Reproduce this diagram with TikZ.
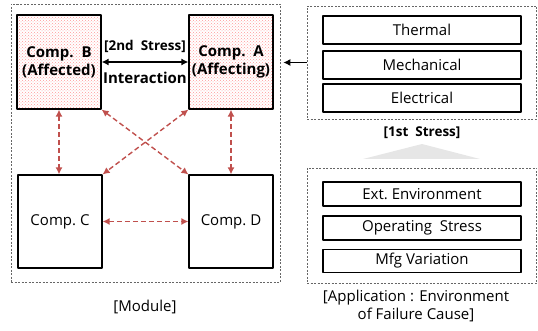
\documentclass[tikz,border=0pt]{standalone}
\usepackage{fontspec}
\setmainfont{Open Sans}
\usetikzlibrary{arrows.meta,patterns}
\definecolor{linkred}{RGB}{192,80,77}
\definecolor{conegray}{RGB}{230,230,230}
\newcommand{\txtsize}{\fontsize{15}{18}\selectfont}
\tikzset{
  comp/.style={draw, line width=1.2pt, minimum width=84pt, minimum height=94pt, inner sep=0pt, align=center},
  hatched/.style={comp, pattern=crosshatch dots, pattern color=red!40, font=\txtsize\bfseries},
  causebox/.style={draw, line width=1.2pt, minimum width=198pt, inner sep=0pt},
  groupbox/.style={draw=black!60, dash pattern=on 2pt off 1.5pt, line width=0.6pt, inner sep=0pt},
  link/.style={linkred, line width=1.4pt, dash pattern=on 5pt off 3pt, {Latex[length=7pt,width=7pt]}-{Latex[length=7pt,width=7pt]}}
}
\begin{document}
\begin{tikzpicture}[x=1pt, y=-1pt, font=\txtsize, line join=round]
  % Fix the page size
  \useasboundingbox (0,0) rectangle (538,331);

  % Module group (left)
  \node[groupbox, minimum width=269pt, minimum height=278pt] (module) at (145.5,143) {};
  \node[hatched] (compB) at (59,62) {Comp.~~B\\(Affected)};
  \node[hatched] (compA) at (231,62) {Comp.~~A\\(Affecting)};
  \node[comp, minimum height=93pt] (compC) at (60,221.5) {Comp.~C};
  \node[comp, minimum height=93pt] (compD) at (231,221.5) {Comp.~D};

  % Interaction between A and B
  \draw[line width=1.3pt, {Latex[length=7pt,width=7pt]}-{Latex[length=7pt,width=7pt]}] (compB.east) -- (compA.west);
  \node[font=\fontsize{13.5}{15}\selectfont\bfseries] (second) at (145,46) {[2nd~~Stress]};
  \node[font=\txtsize\bfseries] (inter) at (145,78) {Interaction};

  % Red dashed links between components
  \draw[link] (compB.south) -- (compB.south |- compC.north);
  \draw[link] (compA.south) -- (compA.south |- compD.north);
  \draw[link] (compB.south east) -- (compD.north west);
  \draw[link] (compA.south west) -- (compC.north east);
  \draw[link] (compC.east) -- (compD.west);
  \node (modlabel) at (145,307) {[Module]};

  % 1st stress group (upper right)
  \node[groupbox, minimum width=229.5pt, minimum height=113pt] (stress) at (421.75,62.5) {};
  \node[causebox, minimum height=28pt] (thermal) at (422,30) {Thermal};
  \node[causebox, minimum height=28pt] (mech) at (422,65) {Mechanical};
  \node[causebox, minimum height=28pt] (elec) at (422,98) {Electrical};
  \draw[line width=1.3pt, -{Latex[length=7pt,width=7pt]}, shorten >=3pt] (stress.west) -- (stress.west -| module.east);
  \node[font=\fontsize{13.5}{15}\selectfont\bfseries] (first) at (422,133) {[1st~~Stress]};

  % Gray cone from the causes up to the stresses
  \coordinate (coneL) at (363,159);
  \coordinate (coneR) at (480,159);
  \coordinate (coneT) at (422,144);
  \fill[conegray] (coneL) -- (coneT) -- (coneR) -- cycle;

  % Failure cause group (lower right)
  \node[groupbox, minimum width=229.5pt, minimum height=115pt] (cause) at (421.75,225.5) {};
  \node[causebox, minimum height=24pt] (ext) at (422,194) {Ext.~Environment};
  \node[causebox, minimum height=24pt] (oper) at (422,228) {Operating~~Stress};
  \node[causebox, minimum height=23pt] (mfg) at (422,261) {Mfg Variation};
  \node[align=center, font=\fontsize{15}{18}\selectfont] (applabel) at (416,306) {[Application : Environment\\of Failure Cause]};
\end{tikzpicture}
\end{document}
